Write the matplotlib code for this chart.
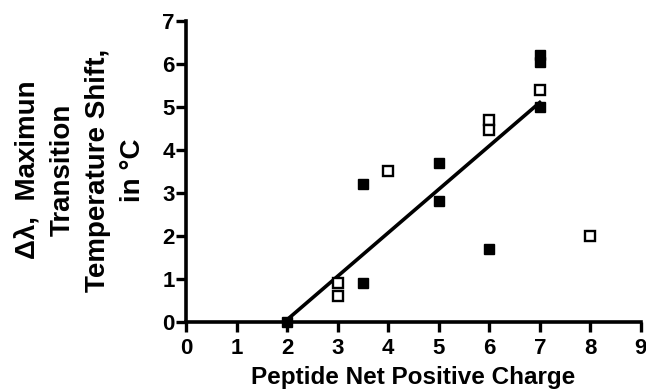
import matplotlib
matplotlib.use("Agg")
import matplotlib.pyplot as plt

plt.rcParams['font.family'] = ['Liberation Sans', 'DejaVu Sans']
plt.rcParams['font.weight'] = 'bold'

# filled squares
filled_x = [2, 3.5, 3.5, 5, 5, 6, 7, 7, 7]
filled_y = [0.0, 3.2, 0.9, 3.7, 2.8, 1.7, 6.2, 6.05, 5.0]
# open squares
open_x = [3, 3, 4, 6, 6, 7, 8]
open_y = [0.9, 0.6, 3.5, 4.7, 4.45, 5.4, 2.0]
# fit line end points
fit_x = [2, 7]
fit_y = [0.05, 5.1]

fig = plt.figure(figsize=(6.46, 3.92), dpi=100)
ax = fig.add_axes([0.288, 0.179, 0.704, 0.768])

ax.plot(fit_x, fit_y, color='black', lw=2.6, zorder=2)
ax.plot(filled_x, filled_y, 's', color='black', ms=7.5, clip_on=False, zorder=3)
ax.plot(open_x, open_y, 's', mfc='white', mec='black', mew=1.7, ms=7.5,
        clip_on=False, zorder=3)

ax.set_xlim(0, 9)
ax.set_ylim(0, 7)
ax.set_xticks(range(0, 10))
ax.set_yticks(range(0, 8))
for s in ['top', 'right']:
    ax.spines[s].set_visible(False)
for s in ['left', 'bottom']:
    ax.spines[s].set_linewidth(2.6)
ax.tick_params(width=2.4, length=7, labelsize=16)
ax.tick_params(axis='x', pad=5)
ax.tick_params(axis='y', pad=1)

ax.set_xlabel('Peptide Net Positive Charge', fontsize=17.5, fontweight='bold', labelpad=5)
ax.set_ylabel('Δλ,  Maximun\nTransition\nTemperature Shift,\nin °C',
              fontsize=20, fontweight='bold', linespacing=1.45, va='center')
ax.yaxis.set_label_coords(-0.233, 0.504)

fig.savefig('out.png', dpi=100)
